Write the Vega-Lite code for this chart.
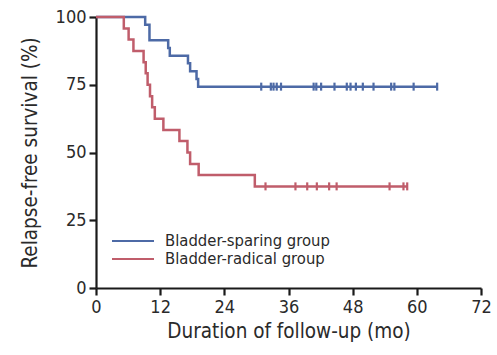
{
  "$schema": "https://vega.github.io/schema/vega-lite/v6.json",
  "autosize": "none",
  "padding": {"left": 96, "top": 17, "right": 16, "bottom": 67},
  "width": 385,
  "height": 271,
  "background": "white",
  "config": {
    "view": {"stroke": null},
    "font": "DejaVu Sans Condensed, sans-serif",
    "axis": {
      "domainColor": "#1a1a1a", "domainWidth": 2.2,
      "tickColor": "#1a1a1a", "tickWidth": 2.2, "tickSize": 7,
      "labelColor": "#2a2a2a", "labelFontSize": 18, "labelFont": "DejaVu Sans Condensed, sans-serif",
      "titleColor": "#2a2a2a", "titleFontSize": 20.5, "titleFontWeight": "normal", "titleFont": "DejaVu Sans Condensed, sans-serif",
      "grid": false, "labelFlush": false
    }
  },
  "datasets": {
    "curve": [
      {"group": "Bladder-sparing group", "month": 0, "surv": 100},
      {"group": "Bladder-sparing group", "month": 9.2, "surv": 97.1},
      {"group": "Bladder-sparing group", "month": 10.0, "surv": 91.4},
      {"group": "Bladder-sparing group", "month": 13.5, "surv": 88.6},
      {"group": "Bladder-sparing group", "month": 13.8, "surv": 85.7},
      {"group": "Bladder-sparing group", "month": 17.2, "surv": 82.9},
      {"group": "Bladder-sparing group", "month": 17.6, "surv": 80.0},
      {"group": "Bladder-sparing group", "month": 18.8, "surv": 77.1},
      {"group": "Bladder-sparing group", "month": 19.1, "surv": 74.3},
      {"group": "Bladder-sparing group", "month": 63.8, "surv": 74.3},
      {"group": "Bladder-radical group", "month": 0, "surv": 100},
      {"group": "Bladder-radical group", "month": 5.2, "surv": 95.8},
      {"group": "Bladder-radical group", "month": 6.1, "surv": 91.7},
      {"group": "Bladder-radical group", "month": 7.0, "surv": 87.5},
      {"group": "Bladder-radical group", "month": 8.9, "surv": 83.3},
      {"group": "Bladder-radical group", "month": 9.3, "surv": 79.2},
      {"group": "Bladder-radical group", "month": 9.65, "surv": 75.0},
      {"group": "Bladder-radical group", "month": 10.1, "surv": 70.8},
      {"group": "Bladder-radical group", "month": 10.5, "surv": 66.7},
      {"group": "Bladder-radical group", "month": 11.0, "surv": 62.5},
      {"group": "Bladder-radical group", "month": 12.6, "surv": 58.3},
      {"group": "Bladder-radical group", "month": 15.6, "surv": 54.2},
      {"group": "Bladder-radical group", "month": 17.1, "surv": 50.0},
      {"group": "Bladder-radical group", "month": 17.6, "surv": 45.8},
      {"group": "Bladder-radical group", "month": 19.2, "surv": 41.7},
      {"group": "Bladder-radical group", "month": 29.7, "surv": 37.5},
      {"group": "Bladder-radical group", "month": 58.2, "surv": 37.5}
    ],
    "censor": [
      {"group": "Bladder-sparing group", "month": 30.9, "surv": 74.3},
      {"group": "Bladder-sparing group", "month": 32.7, "surv": 74.3},
      {"group": "Bladder-sparing group", "month": 33.2, "surv": 74.3},
      {"group": "Bladder-sparing group", "month": 33.8, "surv": 74.3},
      {"group": "Bladder-sparing group", "month": 34.6, "surv": 74.3},
      {"group": "Bladder-sparing group", "month": 40.7, "surv": 74.3},
      {"group": "Bladder-sparing group", "month": 41.2, "surv": 74.3},
      {"group": "Bladder-sparing group", "month": 42.1, "surv": 74.3},
      {"group": "Bladder-sparing group", "month": 44.6, "surv": 74.3},
      {"group": "Bladder-sparing group", "month": 46.9, "surv": 74.3},
      {"group": "Bladder-sparing group", "month": 47.6, "surv": 74.3},
      {"group": "Bladder-sparing group", "month": 48.6, "surv": 74.3},
      {"group": "Bladder-sparing group", "month": 49.9, "surv": 74.3},
      {"group": "Bladder-sparing group", "month": 51.9, "surv": 74.3},
      {"group": "Bladder-sparing group", "month": 55.2, "surv": 74.3},
      {"group": "Bladder-sparing group", "month": 55.8, "surv": 74.3},
      {"group": "Bladder-sparing group", "month": 59.4, "surv": 74.3},
      {"group": "Bladder-sparing group", "month": 63.8, "surv": 74.3},
      {"group": "Bladder-radical group", "month": 31.7, "surv": 37.5},
      {"group": "Bladder-radical group", "month": 37.3, "surv": 37.5},
      {"group": "Bladder-radical group", "month": 39.5, "surv": 37.5},
      {"group": "Bladder-radical group", "month": 41.3, "surv": 37.5},
      {"group": "Bladder-radical group", "month": 43.6, "surv": 37.5},
      {"group": "Bladder-radical group", "month": 45.0, "surv": 37.5},
      {"group": "Bladder-radical group", "month": 54.9, "surv": 37.5},
      {"group": "Bladder-radical group", "month": 57.5, "surv": 37.5},
      {"group": "Bladder-radical group", "month": 58.2, "surv": 37.5}
    ]
  },
  "encoding": {
    "x": {
      "field": "month", "type": "quantitative",
      "scale": {"domain": [0, 72], "nice": false, "zero": true},
      "axis": {"values": [0, 12, 24, 36, 48, 60, 72], "title": "Duration of follow-up (mo)", "labelPadding": 3, "titlePadding": 5}
    },
    "y": {
      "field": "surv", "type": "quantitative",
      "scale": {"domain": [0, 100], "nice": false},
      "axis": {"values": [0, 25, 50, 75, 100], "title": "Relapse-free survival (%)", "labelPadding": 3, "titlePadding": 15}
    },
    "color": {
      "field": "group", "type": "nominal",
      "scale": {"domain": ["Bladder-sparing group", "Bladder-radical group"], "range": ["#4d6aa6", "#c05d6b"]},
      "legend": {
        "title": null, "orient": "none", "legendX": 15, "legendY": 215,
        "symbolType": "stroke", "symbolSize": 1764, "symbolStrokeWidth": 2,
        "labelFontSize": 16.5, "labelColor": "#2a2a2a", "labelOffset": 10, "rowPadding": 0,
        "clipHeight": 18, "labelLimit": 400,
        "labelFont": "DejaVu Sans Condensed, sans-serif"
      }
    }
  },
  "layer": [
    {
      "data": {"name": "curve"},
      "mark": {"type": "line", "interpolate": "step-after", "strokeWidth": 2.5}
    },
    {
      "data": {"name": "censor"},
      "mark": {"type": "point", "shape": "M0,-1L0,1", "filled": false, "size": 64, "strokeWidth": 2.2, "opacity": 1}
    }
  ]
}
